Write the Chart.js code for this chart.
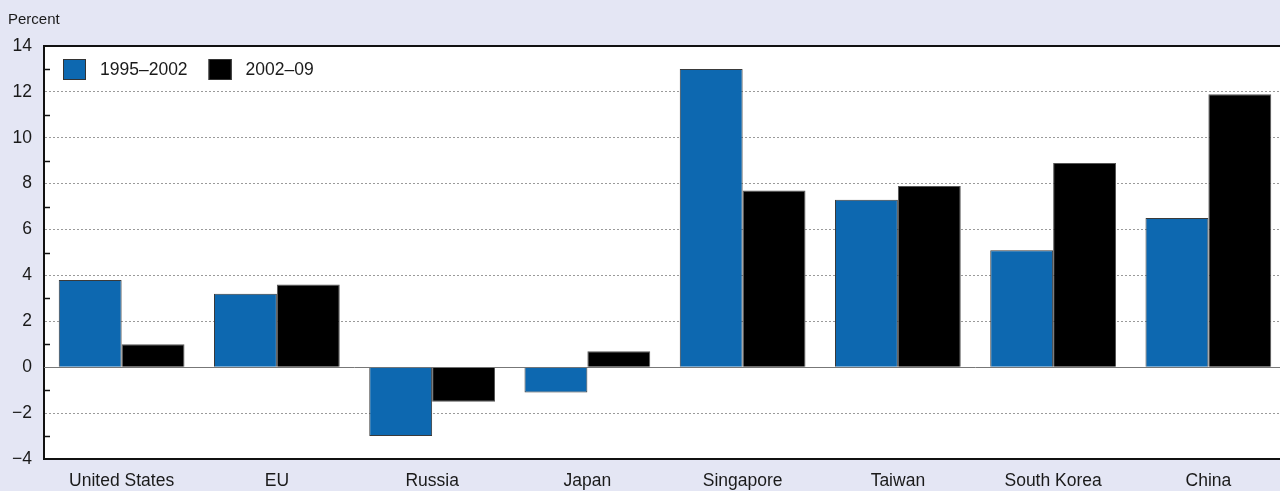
<!DOCTYPE html>
<html>
<head>
<meta charset="utf-8">
<script src="https://cdn.jsdelivr.net/npm/chart.js@4/dist/chart.umd.min.js"></script>
<style>
  html, body { margin: 0; padding: 0; background: #e4e6f4; overflow: hidden; }
  #wrap { width: 1286px; height: 491px; }
</style>
</head>
<body>
<div id="wrap"><canvas id="chart" width="1286" height="491"></canvas></div>
<script>
const categories = ["United States", "EU", "Russia", "Japan", "Singapore", "Taiwan", "South Korea", "China"];
const period1 = [3.8, 3.2, -3.0, -1.1, 13.0, 7.3, 5.1, 6.5];
const period2 = [1.0, 3.6, -1.5, 0.7, 7.7, 7.9, 8.9, 11.9];
const seriesNames = ["1995–2002", "2002–09"];
const yMin = -4, yMax = 14, yStep = 2;

const FONT = "'Liberation Sans', Arial, Helvetica, sans-serif";
const TEXT = "#1a1a1a";

// background, frame, minor ticks, zero line, legend and unit label
const decor = {
  id: "decor",
  beforeDraw(chart) {
    const { ctx, chartArea: a } = chart;
    ctx.save();
    ctx.fillStyle = "#e4e6f4";
    ctx.fillRect(0, 0, chart.width, chart.height);
    ctx.fillStyle = "#ffffff";
    ctx.fillRect(a.left, a.top, a.right - a.left, a.bottom - a.top);
    ctx.restore();
  },
  beforeDatasetsDraw(chart) {
    const { ctx, chartArea: a, scales } = chart;
    const y0 = Math.round(scales.y.getPixelForValue(0)) + 0.5;
    ctx.save();
    ctx.strokeStyle = "#777";
    ctx.lineWidth = 1;
    ctx.beginPath();
    ctx.moveTo(a.left, y0);
    ctx.lineTo(a.right, y0);
    ctx.stroke();
    ctx.restore();
  },
  afterDraw(chart) {
    const { ctx, chartArea: a, scales } = chart;
    ctx.save();
    // top border
    ctx.strokeStyle = "#111";
    ctx.lineWidth = 2;
    ctx.beginPath();
    ctx.moveTo(a.left - 1, a.top);
    ctx.lineTo(chart.width, a.top);
    ctx.stroke();
    // minor ticks on odd values
    ctx.lineWidth = 1.5;
    for (let v = yMin + 1; v < yMax; v += 2) {
      const py = Math.round(scales.y.getPixelForValue(v)) + 0.5;
      ctx.beginPath();
      ctx.moveTo(a.left, py);
      ctx.lineTo(a.left + 6, py);
      ctx.stroke();
    }
    // unit label
    ctx.fillStyle = TEXT;
    ctx.font = "15px " + FONT;
    ctx.textBaseline = "middle";
    ctx.textAlign = "left";
    ctx.fillText("Percent", 8, 20);
    // legend
    ctx.font = "17.5px " + FONT;
    const items = chart.data.datasets;
    let x = a.left + 19;
    const top = a.top + 13;
    items.forEach((ds) => {
      ctx.fillStyle = ds.backgroundColor;
      ctx.fillRect(x, top, 23, 21);
      ctx.strokeStyle = "#333";
      ctx.lineWidth = 1;
      ctx.strokeRect(x + 0.5, top + 0.5, 22, 20);
      ctx.fillStyle = TEXT;
      ctx.fillText(ds.label, x + 37, top + 11);
      x += 37 + ctx.measureText(ds.label).width + 21;
    });
    ctx.restore();
  }
};

new Chart(document.getElementById("chart"), {
  type: "bar",
  data: {
    labels: categories,
    datasets: [
      { label: seriesNames[0], data: period1, backgroundColor: "#0d68b0", borderColor: "#3a3a3a", borderWidth: 1 },
      { label: seriesNames[1], data: period2, backgroundColor: "#000000", borderColor: "#555555", borderWidth: 1 }
    ]
  },
  options: {
    responsive: false,
    animation: false,
    devicePixelRatio: 1,
    layout: { padding: { top: 46, right: 0, left: 0, bottom: 0 } },
    datasets: { bar: { categoryPercentage: 0.81, barPercentage: 1.0 } },
    plugins: { legend: { display: false }, tooltip: { enabled: false } },
    scales: {
      x: {
        grid: { display: false, drawTicks: false },
        border: { display: true, color: "#111", width: 2 },
        ticks: { color: TEXT, font: { family: FONT, size: 17.5 }, padding: 12, maxRotation: 0, autoSkip: false },
        afterFit(s) { s.height = 32; }
      },
      y: {
        min: yMin,
        max: yMax,
        grid: {
          drawTicks: false,
          lineWidth: 1,
          color: (c) => {
            const v = c.tick && c.tick.value;
            return (v === 0 || v === yMin || v === yMax) ? "rgba(0,0,0,0)" : "#9a9a9a";
          }
        },
        border: { display: true, color: "#111", width: 2, dash: [2, 2] },
        ticks: {
          stepSize: yStep,
          color: TEXT,
          font: { family: FONT, size: 17.5 },
          padding: 12,
          callback: (v) => String(v).replace("-", "\u2212")
        },
        afterFit(s) { s.width = 44; }
      }
    }
  },
  plugins: [decor]
});
</script>
</body>
</html>
